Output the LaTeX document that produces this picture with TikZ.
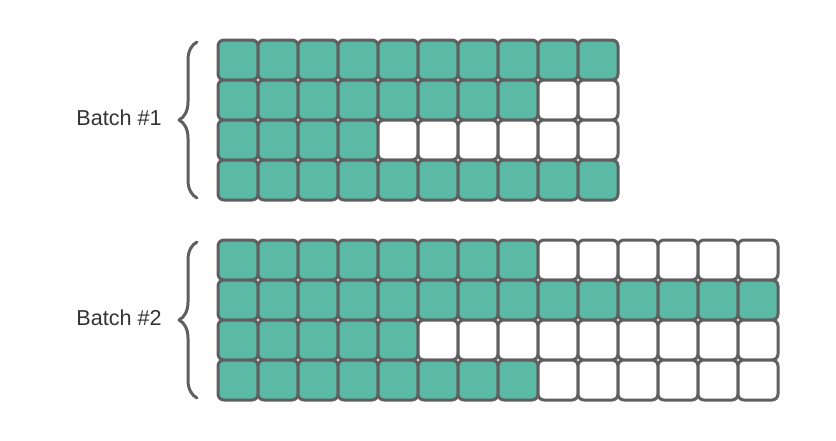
\documentclass[tikz,border=0pt]{standalone}
\usepackage{fontspec}
\setmainfont{Liberation Sans}
\usetikzlibrary{positioning,decorations.pathreplacing}
\definecolor{verde}{HTML}{5BBAA6}
\definecolor{cinza}{HTML}{5F5F5F}
\tikzstyle{cell} = [draw=cinza, line width=2.25pt, rectangle, rounded corners=4.5pt, minimum size=30pt, inner sep=0pt, outer sep=0pt]
\tikzstyle{cellon} = [cell, fill=verde]
\tikzstyle{celloff} = [cell, fill=white]
\tikzstyle{chave} = [draw=cinza, line width=2.25pt, line cap=round, line join=round, decorate, decoration={brace, amplitude=13.5pt}]
\tikzstyle{batchlabel} = [inner sep=0pt, text=black!80, font=\fontsize{16.2}{19}\selectfont]

\begin{document}
\begin{tikzpicture}[x=0.75pt, y=-0.75pt]
\useasboundingbox (0,0) rectangle (836,440);
% batch 1
\foreach \r/\n in {1/10,2/8,3/4,4/10}
  \foreach \c in {1,...,10} {
    \ifnum\c>\n \def\st{celloff}\else\def\st{cellon}\fi
    \node [\st] (a-\r-\c) at (198+40*\c, 20+40*\r) {};
  }
% batch 2
\foreach \r/\n in {1/8,2/14,3/5,4/8}
  \foreach \c in {1,...,14} {
    \ifnum\c>\n \def\st{celloff}\else\def\st{cellon}\fi
    \node [\st] (b-\r-\c) at (198+40*\c, 220+40*\r) {};
  }
% chaves
\draw [chave] ([xshift=-15.75pt, yshift=1.5pt]a-4-1.south west) -- ([xshift=-15.75pt, yshift=-1.5pt]a-1-1.north west);
\draw [chave] ([xshift=-15.75pt, yshift=1.5pt]b-4-1.south west) -- ([xshift=-15.75pt, yshift=-1.5pt]b-1-1.north west);
% rotulos
\node [batchlabel, anchor=east, xshift=-42pt, yshift=2pt] (lab1) at (a-3-1.north west) {Batch \#1};
\node [batchlabel, anchor=east, xshift=-42pt, yshift=2pt] (lab2) at (b-3-1.north west) {Batch \#2};
\end{tikzpicture}
\end{document}
